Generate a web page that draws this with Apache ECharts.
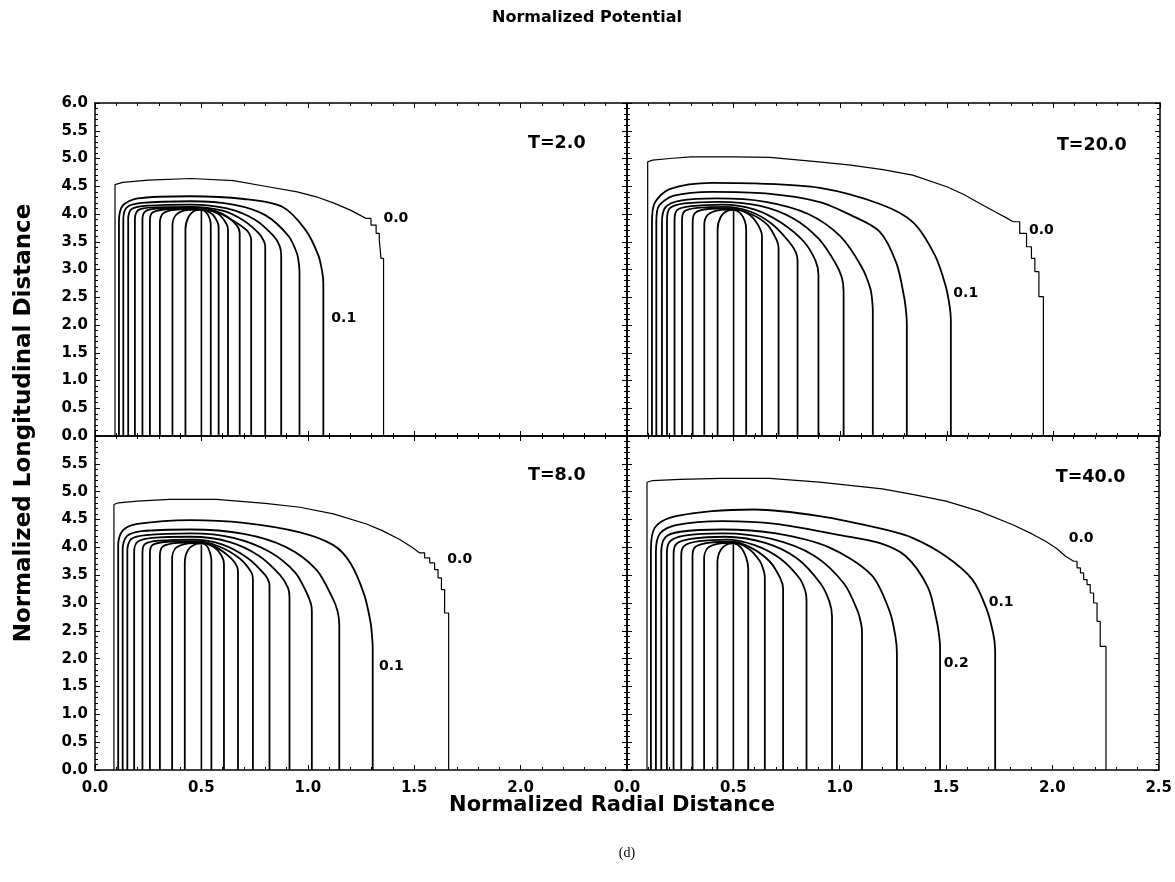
<!DOCTYPE html>
<html><head><meta charset="utf-8">
<script src="https://cdn.jsdelivr.net/npm/echarts@6/dist/echarts.min.js"></script>
<style>html,body{margin:0;padding:0;background:#fff}#c{width:1175px;height:882px}</style>
</head><body><div id="c"></div><script>
// ---------- data ----------
const panelNames = ['T=2.0', 'T=20.0', 'T=8.0', 'T=40.0'];
const panelNamePos = [[2.17, 5.28], [2.18, 5.24], [2.17, 5.30], [2.18, 5.26]];

// contour level labels per panel: [text, x, y]
const levelLabelsT2  = [['0.0', 1.414, 3.92], ['0.1', 1.169, 2.12]];
const levelLabelsT20 = [['0.0', 1.944, 3.71], ['0.1', 1.589, 2.57]];
const levelLabelsT8  = [['0.0', 1.714, 3.78], ['0.1', 1.393, 1.86]];
const levelLabelsT40 = [['0.0', 2.135, 4.16], ['0.1', 1.759, 3.01], ['0.2', 1.548, 1.92]];

// outermost (0.0) contour, flat x,y lists (stair-stepped)
const zeroT2 = [0.094,0, 0.094,4.53, 0.13,4.57, 0.25,4.61, 0.45,4.64, 0.65,4.6, 0.8,4.5, 0.95,4.4, 1.04,4.31, 1.12,4.2, 1.2,4.07, 1.245,3.98, 1.274,3.92,
  1.297,3.92, 1.297,3.80, 1.321,3.80, 1.321,3.65, 1.336,3.65, 1.336,3.53, 1.344,3.53, 1.344,3.20, 1.356,3.20, 1.356,0];
const zeroT20 = [0.097,0, 0.097,4.94, 0.12,4.97, 0.2,5.0, 0.3,5.03, 0.5,5.03, 0.67,5.02, 0.9,4.94, 1.05,4.88, 1.2,4.8, 1.34,4.7, 1.5,4.49, 1.58,4.35, 1.655,4.19, 1.73,4.03, 1.78,3.93, 1.811,3.86,
  1.842,3.86, 1.842,3.65, 1.874,3.65, 1.874,3.41, 1.897,3.41, 1.897,3.2, 1.913,3.2, 1.913,2.96, 1.932,2.96, 1.932,2.51, 1.953,2.51, 1.953,0];
const zeroT8 = [0.089,0, 0.089,4.77, 0.11,4.8, 0.2,4.83, 0.35,4.86, 0.57,4.86, 0.8,4.79, 0.963,4.72, 1.12,4.6, 1.276,4.42, 1.35,4.3, 1.432,4.14, 1.49,4.0, 1.526,3.9,
  1.549,3.9, 1.549,3.81, 1.573,3.81, 1.573,3.72, 1.596,3.72, 1.596,3.6, 1.612,3.6, 1.612,3.45, 1.628,3.45, 1.628,3.24, 1.643,3.24, 1.643,2.82, 1.662,2.82, 1.662,0];
const zeroT40 = [0.094,0, 0.094,5.17, 0.12,5.2, 0.25,5.22, 0.44,5.24, 0.67,5.24, 0.905,5.17, 1.2,5.05, 1.342,4.95, 1.5,4.83, 1.655,4.65, 1.811,4.41, 1.9,4.25, 1.968,4.11, 2.02,3.98, 2.062,3.84,
  2.1,3.75, 2.116,3.75, 2.116,3.63, 2.132,3.63, 2.132,3.54, 2.147,3.54, 2.147,3.42, 2.163,3.42, 2.163,3.33, 2.178,3.33, 2.178,3.18, 2.194,3.18, 2.194,3.0, 2.21,3.0, 2.21,2.67, 2.225,2.67, 2.225,2.22, 2.252,2.22, 2.252,0];

// inner contours (smooth), flat x,y lists; last one is the central line
const innerT2 = [
  [0.1125,0, 0.1125,3.85, 0.13,4.15, 0.2,4.28, 0.45,4.32, 0.7,4.27, 0.88,4.13, 0.99,3.71, 1.05,3.25, 1.068,2.95, 1.073,2.75, 1.073,0],
  [0.133,0, 0.133,3.9, 0.15,4.12, 0.22,4.2, 0.45,4.23, 0.65,4.17, 0.8,3.98, 0.91,3.6, 0.95,3.28, 0.958,3.1, 0.961,2.95, 0.961,0],
  [0.156,0, 0.156,3.92, 0.172,4.09, 0.25,4.15, 0.45,4.17, 0.62,4.1, 0.75,3.9, 0.84,3.6, 0.868,3.42, 0.875,3.25, 0.875,0],
  [0.1875,0, 0.1875,3.92, 0.203,4.07, 0.27,4.12, 0.45,4.13, 0.6,4.06, 0.7,3.88, 0.77,3.65, 0.795,3.5, 0.8,3.4, 0.8,0],
  [0.223,0, 0.223,3.9, 0.237,4.05, 0.3,4.1, 0.45,4.11, 0.57,4.04, 0.65,3.88, 0.715,3.7, 0.732,3.58, 0.734,3.5, 0.734,0],
  [0.258,0, 0.258,3.88, 0.272,4.03, 0.35,4.09, 0.5,4.1, 0.6,4.0, 0.665,3.8, 0.68,3.65, 0.68,0],
  [0.305,0, 0.305,3.85, 0.322,4.02, 0.4,4.085, 0.5,4.09, 0.58,4.0, 0.618,3.82, 0.625,3.72, 0.625,0],
  [0.364,0, 0.364,3.8, 0.382,3.99, 0.44,4.075, 0.5,4.08, 0.55,4.0, 0.576,3.85, 0.581,3.75, 0.581,0],
  [0.425,0, 0.425,3.72, 0.44,3.95, 0.475,4.07, 0.5,4.075, 0.525,4.02, 0.54,3.9, 0.544,3.8, 0.544,0],
  [0.5,0, 0.5,4.07]
];
const innerT20 = [
  [0.117,0, 0.117,3.84, 0.13,4.2, 0.2,4.45, 0.4,4.56, 0.6,4.55, 0.905,4.47, 1.186,4.18, 1.342,3.85, 1.445,3.25, 1.495,2.7, 1.513,2.35, 1.519,2.1, 1.519,0],
  [0.1375,0, 0.1375,3.85, 0.15,4.15, 0.22,4.33, 0.4,4.4, 0.65,4.37, 0.9,4.22, 1.05,3.98, 1.186,3.68, 1.264,3.11, 1.3,2.5, 1.31,2.2, 1.3125,2.0, 1.3125,0],
  [0.164,0, 0.164,3.85, 0.18,4.12, 0.25,4.24, 0.42,4.28, 0.65,4.22, 0.85,4.0, 1.0,3.6, 1.1,3.05, 1.142,2.65, 1.151,2.4, 1.153,2.25, 1.153,0],
  [0.1875,0, 0.1875,3.87, 0.2,4.1, 0.27,4.19, 0.43,4.22, 0.62,4.15, 0.78,3.92, 0.9,3.55, 0.98,3.1, 1.008,2.85, 1.016,2.6, 1.016,0],
  [0.223,0, 0.223,3.88, 0.235,4.07, 0.3,4.14, 0.45,4.17, 0.6,4.08, 0.72,3.85, 0.83,3.5, 0.885,3.15, 0.898,2.9, 0.898,0],
  [0.258,0, 0.258,3.88, 0.27,4.05, 0.33,4.11, 0.46,4.13, 0.58,4.04, 0.68,3.82, 0.76,3.5, 0.793,3.3, 0.8,3.15, 0.8,0],
  [0.308,0, 0.308,3.85, 0.32,4.02, 0.38,4.09, 0.48,4.1, 0.58,4.0, 0.66,3.8, 0.703,3.52, 0.711,3.38, 0.711,0],
  [0.3625,0, 0.3625,3.8, 0.38,3.99, 0.44,4.075, 0.5,4.085, 0.57,4.0, 0.615,3.8, 0.633,3.6, 0.633,0],
  [0.425,0, 0.425,3.72, 0.44,3.95, 0.475,4.065, 0.5,4.075, 0.53,4.02, 0.552,3.88, 0.559,3.72, 0.559,0],
  [0.5,0, 0.5,4.07]
];
const innerT8 = [
  [0.109,0, 0.109,4.05, 0.13,4.3, 0.2,4.42, 0.45,4.49, 0.7,4.44, 0.963,4.27, 1.12,4.04, 1.2,3.72, 1.265,3.15, 1.295,2.65, 1.303,2.35, 1.305,2.2, 1.305,0],
  [0.13,0, 0.13,3.98, 0.15,4.2, 0.22,4.29, 0.45,4.32, 0.7,4.24, 0.9,4.0, 1.04,3.6, 1.115,3.1, 1.14,2.85, 1.148,2.6, 1.148,0],
  [0.152,0, 0.152,3.95, 0.17,4.15, 0.24,4.22, 0.45,4.25, 0.65,4.17, 0.82,3.92, 0.94,3.55, 0.995,3.18, 1.015,2.98, 1.019,2.85, 1.019,0],
  [0.184,0, 0.184,3.93, 0.2,4.1, 0.27,4.17, 0.45,4.19, 0.63,4.1, 0.77,3.85, 0.87,3.5, 0.907,3.27, 0.914,3.1, 0.914,0],
  [0.223,0, 0.223,3.9, 0.235,4.06, 0.3,4.12, 0.46,4.14, 0.6,4.05, 0.72,3.8, 0.8,3.5, 0.818,3.37, 0.82,3.3, 0.82,0],
  [0.258,0, 0.258,3.88, 0.27,4.04, 0.34,4.1, 0.47,4.11, 0.58,4.02, 0.68,3.8, 0.735,3.55, 0.742,3.42, 0.742,0],
  [0.305,0, 0.305,3.85, 0.32,4.02, 0.39,4.08, 0.49,4.09, 0.57,4.0, 0.64,3.8, 0.668,3.65, 0.672,3.55, 0.672,0],
  [0.3625,0, 0.3625,3.8, 0.38,3.99, 0.44,4.07, 0.5,4.08, 0.56,4.0, 0.595,3.85, 0.606,3.7, 0.606,0],
  [0.422,0, 0.422,3.72, 0.437,3.95, 0.475,4.06, 0.5,4.07, 0.527,4.02, 0.542,3.88, 0.547,3.76, 0.547,0],
  [0.5,0, 0.5,4.05]
];
const innerT40 = [
  [0.1125,0, 0.1125,3.96, 0.13,4.35, 0.2,4.53, 0.4,4.65, 0.6,4.68, 0.905,4.56, 1.2,4.33, 1.342,4.17, 1.499,3.84, 1.624,3.42, 1.69,2.9, 1.722,2.45, 1.731,2.15, 1.731,0],
  [0.136,0, 0.136,3.92, 0.155,4.25, 0.23,4.4, 0.45,4.47, 0.7,4.42, 1.0,4.22, 1.186,4.08, 1.311,3.84, 1.415,3.28, 1.455,2.7, 1.468,2.4, 1.472,2.2, 1.472,0],
  [0.161,0, 0.161,3.9, 0.18,4.18, 0.25,4.28, 0.45,4.32, 0.7,4.25, 0.95,4.0, 1.15,3.5, 1.235,2.85, 1.262,2.4, 1.269,2.1, 1.269,0],
  [0.1875,0, 0.1875,3.88, 0.2,4.1, 0.27,4.21, 0.45,4.25, 0.68,4.15, 0.88,3.85, 1.02,3.35, 1.085,2.85, 1.102,2.6, 1.105,2.45, 1.105,0],
  [0.219,0, 0.219,3.87, 0.232,4.06, 0.3,4.15, 0.46,4.19, 0.65,4.08, 0.8,3.8, 0.91,3.35, 0.952,3.02, 0.964,2.75, 0.964,0],
  [0.255,0, 0.255,3.86, 0.27,4.03, 0.34,4.11, 0.47,4.14, 0.6,4.04, 0.72,3.8, 0.81,3.45, 0.838,3.22, 0.844,3.05, 0.844,0],
  [0.308,0, 0.308,3.84, 0.322,4.01, 0.39,4.085, 0.49,4.1, 0.58,4.0, 0.67,3.75, 0.72,3.45, 0.734,3.25, 0.734,0],
  [0.3625,0, 0.3625,3.8, 0.38,3.99, 0.44,4.07, 0.5,4.08, 0.57,3.98, 0.625,3.75, 0.645,3.55, 0.648,3.45, 0.648,0],
  [0.425,0, 0.425,3.72, 0.44,3.95, 0.475,4.06, 0.5,4.07, 0.535,4.0, 0.56,3.82, 0.57,3.62, 0.57,0],
  [0.5,0, 0.5,4.05]
];

// ---------- build ----------
const panels = [
  {zero: zeroT2,  inner: innerT2,  labels: levelLabelsT2},
  {zero: zeroT20, inner: innerT20, labels: levelLabelsT20},
  {zero: zeroT8,  inner: innerT8,  labels: levelLabelsT8},
  {zero: zeroT40, inner: innerT40, labels: levelLabelsT40}
];
const FONT = '"DejaVu Sans", "Liberation Sans", Arial, sans-serif';
const pairs = a => { const r = []; for (let i = 0; i < a.length; i += 2) r.push([a[i], a[i + 1]]); return r; };

const grids = [
  {left: 95,  top: 103, width: 532, height: 333},
  {left: 627, top: 103, width: 533, height: 333},
  {left: 95,  top: 436, width: 532, height: 334},
  {left: 627, top: 436, width: 533, height: 334}
];

const fmt = v => v.toFixed(1);
function axis(type, g, position, showLabel, hideMax) {
  const isX = type === 'x';
  return {
    type: 'value', gridIndex: g, position: position,
    min: 0, max: isX ? 2.5 : 6, interval: 0.5,
    axisLine: {show: true, onZero: false, lineStyle: {color: '#000', width: 1.5}},
    axisTick: {show: true, inside: true, length: 5, lineStyle: {color: '#000', width: 1}},
    minorTick: {show: true, splitNumber: 5, length: 3, lineStyle: {color: '#000', width: 1}},
    splitLine: {show: false}, minorSplitLine: {show: false},
    axisLabel: {show: showLabel, showMaxLabel: !hideMax, formatter: fmt,
      fontFamily: FONT, fontWeight: 'bold', fontSize: 15, color: '#000', margin: isX ? 11 : 7}
  };
}
const xAxis = [], yAxis = [];
// TL
xAxis.push(axis('x', 0, 'bottom', false, false), axis('x', 0, 'top', false, false));
yAxis.push(axis('y', 0, 'left', true, false), axis('y', 0, 'right', false, false));
// TR
xAxis.push(axis('x', 1, 'bottom', false, false), axis('x', 1, 'top', false, false));
yAxis.push(axis('y', 1, 'left', false, false), axis('y', 1, 'right', false, false));
// BL
xAxis.push(axis('x', 2, 'bottom', true, true), axis('x', 2, 'top', false, false));
yAxis.push(axis('y', 2, 'left', true, true), axis('y', 2, 'right', false, false));
// BR
xAxis.push(axis('x', 3, 'bottom', true, false), axis('x', 3, 'top', false, false));
yAxis.push(axis('y', 3, 'left', false, false), axis('y', 3, 'right', false, false));

// text placed at data coordinates through the axes (custom series)
function textSeries(items, size, ax) {
  return Object.assign({
    type: 'custom', silent: true, clip: false,
    data: items.map(t => [t[1], t[2]]),
    renderItem: (params, api) => {
      const pt = api.coord([api.value(0), api.value(1)]);
      return {type: 'text', x: pt[0], y: pt[1], silent: true,
        style: {text: items[params.dataIndex][0], font: 'bold ' + size + 'px ' + FONT,
          fill: '#000', align: 'center', verticalAlign: 'middle'}};
    }
  }, ax);
}

const series = [];
panels.forEach((p, g) => {
  const ax = {xAxisIndex: 2 * g, yAxisIndex: 2 * g};
  series.push(Object.assign({
    type: 'line', data: pairs(p.zero), showSymbol: false, smooth: false, silent: true,
    lineStyle: {color: '#000', width: 1.2}
  }, ax));
  p.inner.forEach((c, i) => {
    series.push(Object.assign({
      type: 'line', data: pairs(c), showSymbol: false, smooth: 0.3, silent: true,
      lineStyle: {color: '#000', width: i === p.inner.length - 1 ? 1.6 : 1.8}
    }, ax));
  });
  series.push(textSeries(p.labels, 14, ax));
  series.push(textSeries([[panelNames[g], panelNamePos[g][0], panelNamePos[g][1]]], 17.5, ax));
});

const chart = echarts.init(document.getElementById('c'), null, {renderer: 'canvas'});
chart.setOption({
  backgroundColor: '#fff',
  animation: false,
  grid: grids,
  xAxis: xAxis,
  yAxis: yAxis,
  series: series,
  graphic: [
    {type: 'text', x: 587, y: 18, style: {text: 'Normalized Potential', font: 'bold 16px ' + FONT, fill: '#000', align: 'center', verticalAlign: 'middle'}},
    {type: 'text', x: 612, y: 806, style: {text: 'Normalized Radial Distance', font: 'bold 21px ' + FONT, fill: '#000', align: 'center', verticalAlign: 'middle'}},
    {type: 'text', x: 24, y: 423, rotation: Math.PI / 2, style: {text: 'Normalized Longitudinal Distance', font: 'bold 23px ' + FONT, fill: '#000', align: 'center', verticalAlign: 'middle'}},
    {type: 'text', x: 627, y: 853, style: {text: '(d)', font: '14px "Liberation Serif", "Times New Roman", serif', fill: '#000', align: 'center', verticalAlign: 'middle'}}
  ]
});
</script></body></html>
